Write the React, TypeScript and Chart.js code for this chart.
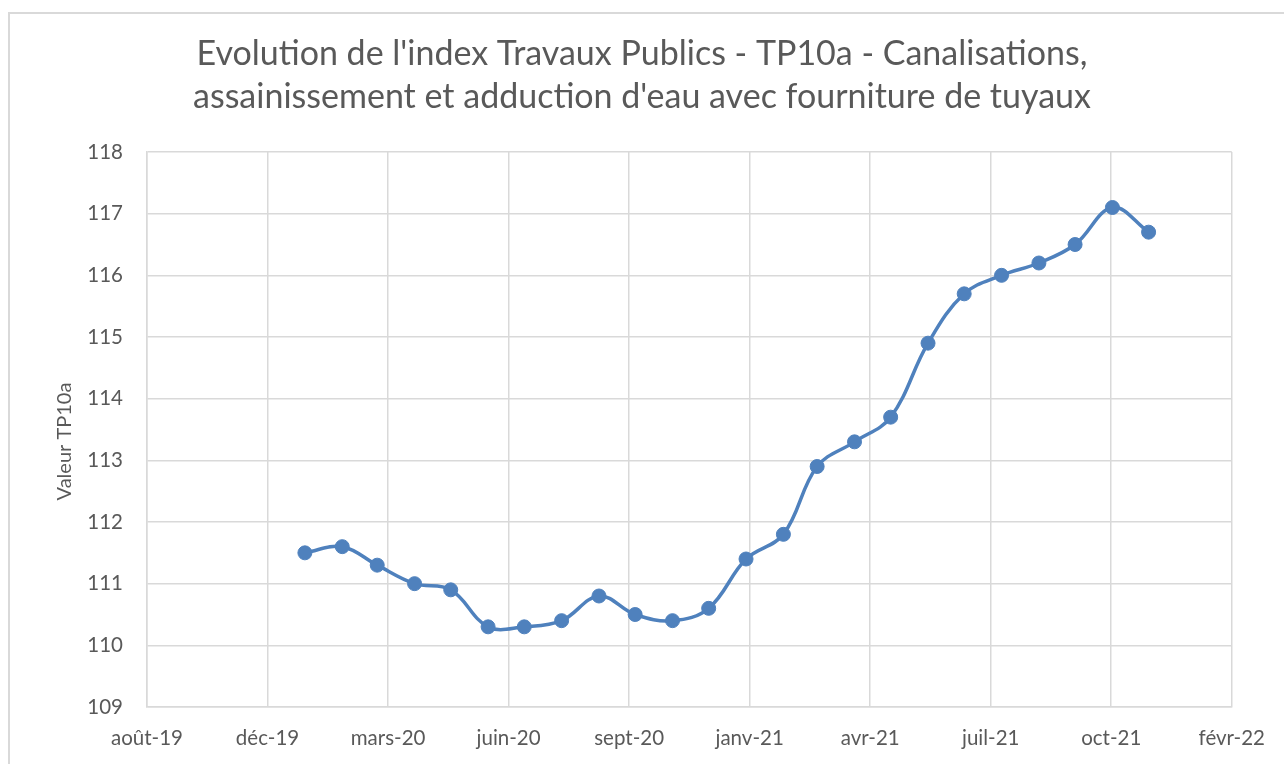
import React, { useEffect, useRef } from "react";
import { Chart, registerables } from "chart.js";

Chart.register(...registerables);

// ---- Data ----
const titleLines = [
  "Evolution de l'index Travaux Publics - TP10a - Canalisations,",
  "assainissement et adduction d'eau avec fourniture de tuyaux",
];
const yAxisTitle = "Valeur TP10a";

const months = [
  "2020-01", "2020-02", "2020-03", "2020-04", "2020-05", "2020-06",
  "2020-07", "2020-08", "2020-09", "2020-10", "2020-11", "2020-12",
  "2021-01", "2021-02", "2021-03", "2021-04", "2021-05", "2021-06",
  "2021-07", "2021-08", "2021-09", "2021-10", "2021-11", "2021-12",
];
const tp10aValues = [
  111.5, 111.6, 111.3, 111.0, 110.9, 110.3,
  110.3, 110.4, 110.8, 110.5, 110.4, 110.6,
  111.4, 111.8, 112.9, 113.3, 113.7, 114.9,
  115.7, 116.0, 116.2, 116.5, 117.1, 116.7,
];

// x axis: Excel date serials, ticks every 100 days
const xAxisMin = 43700;
const xAxisMax = 44600;
const xAxisStep = 100;
const xTickLabels = [
  "août-19", "déc-19", "mars-20", "juin-20", "sept-20",
  "janv-21", "avr-21", "juil-21", "oct-21", "févr-22",
];

const yAxisMin = 109;
const yAxisMax = 118;
const yAxisStep = 1;

function excelSerial(ym: string): number {
  const [y, m] = ym.split("-").map(Number);
  return Math.round((Date.UTC(y, m - 1, 1) - Date.UTC(1899, 11, 30)) / 86400000);
}

const FONT = "Lato, 'Open Sans', sans-serif";
const TEXT = "#595959";
const GRID = "#D9D9D9";
const LINE = "#4F81BD";
const TICK_SIZE = 20.5;
const TITLE_SIZE = 34;

const yTitlePlugin = {
  id: "yTitlePlugin",
  afterDraw(chart: any) {
    const { ctx, chartArea } = chart;
    ctx.save();
    ctx.translate(65, (chartArea.top + chartArea.bottom) / 2 + 12);
    ctx.rotate(-Math.PI / 2);
    ctx.font = `20px ${FONT}`;
    ctx.fillStyle = TEXT;
    ctx.textAlign = "center";
    ctx.textBaseline = "middle";
    ctx.fillText(yAxisTitle, 0, 0);
    ctx.restore();
  },
};

export default function App() {
  const canvasRef = useRef<HTMLCanvasElement | null>(null);

  useEffect(() => {
    if (!canvasRef.current) return;
    const points = months.map((m, i) => ({ x: excelSerial(m), y: tp10aValues[i] }));
    const chart = new Chart(canvasRef.current, {
      type: "line",
      data: {
        datasets: [
          {
            label: "TP10a",
            data: points,
            borderColor: LINE,
            backgroundColor: LINE,
            borderWidth: 3.5,
            tension: 0.38,
            pointRadius: 7,
            pointBorderWidth: 1,
            pointBorderColor: LINE,
            pointBackgroundColor: LINE,
            fill: false,
          },
        ],
      },
      options: {
        responsive: false,
        animation: false,
        layout: { padding: { left: 49, right: 49, top: 0, bottom: 0 } },
        plugins: {
          legend: { display: false },
          tooltip: { enabled: false },
          title: {
            display: true,
            text: titleLines,
            color: TEXT,
            font: { family: FONT, size: TITLE_SIZE, weight: "normal", lineHeight: 43 / TITLE_SIZE },
            padding: { top: 33, bottom: 33 },
          },
        },
        scales: {
          x: {
            type: "linear",
            min: xAxisMin,
            max: xAxisMax,
            afterFit: (scale: any) => {
              scale.height = 57;
            },
            ticks: {
              stepSize: xAxisStep,
              autoSkip: false,
              maxRotation: 0,
              padding: 19,
              color: TEXT,
              font: { family: FONT, size: TICK_SIZE },
              callback: (value: any) => {
                const idx = Math.round((Number(value) - xAxisMin) / xAxisStep);
                return xTickLabels[idx] ?? "";
              },
            },
            grid: { color: GRID, lineWidth: 1.5, drawTicks: false },
            border: { color: GRID, width: 1.5 },
          },
          y: {
            type: "linear",
            min: yAxisMin,
            max: yAxisMax,
            afterFit: (scale: any) => {
              scale.width = 98;
            },
            ticks: {
              stepSize: yAxisStep,
              padding: 24,
              color: TEXT,
              font: { family: FONT, size: TICK_SIZE },
            },
            grid: { color: GRID, lineWidth: 1.5, drawTicks: false },
            border: { color: GRID, width: 1.5 },
          },
        },
      },
      plugins: [yTitlePlugin],
    });
    return () => chart.destroy();
  }, []);

  return (
    <div
      style={{
        position: "fixed",
        left: 0,
        top: 0,
        width: 1284,
        height: 764,
        overflow: "hidden",
        background: "#fff",
      }}
    >
      <div
        style={{
          position: "absolute",
          left: 8,
          top: 12,
          width: 1400,
          height: 900,
          border: "2px solid #D9D9D9",
          boxSizing: "border-box",
        }}
      />
      <canvas
        ref={canvasRef}
        width={1284}
        height={764}
        style={{ position: "absolute", left: 0, top: 0, display: "block" }}
      />
    </div>
  );
}
